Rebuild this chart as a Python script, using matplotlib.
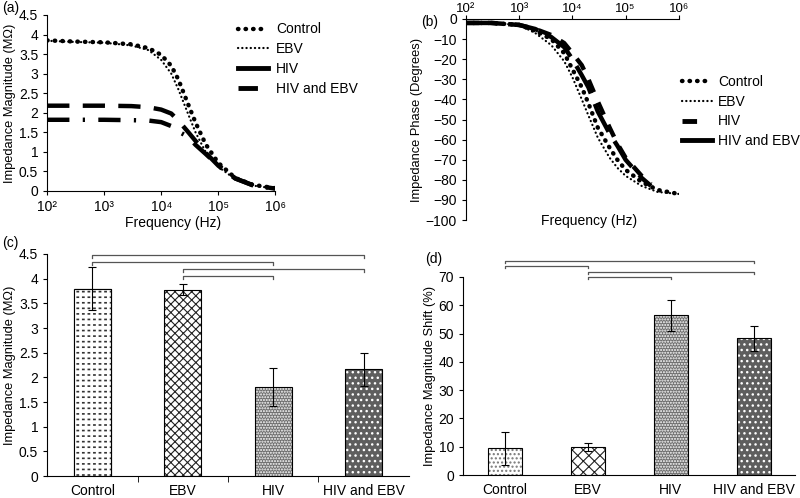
"""
Impedance magnitude / phase spectra and bar comparisons (Control, EBV, HIV, HIV and EBV)
"""

import numpy as np
import matplotlib as mpl
import matplotlib.pyplot as plt
from matplotlib.lines import Line2D

plt.rcParams['font.family'] = ['Liberation Sans', 'DejaVu Sans']
plt.rcParams['font.size'] = 10

groups = ['Control', 'EBV', 'HIV', 'HIV and EBV']

# (a) impedance magnitude spectra (MOhm)
freq_a = [1e2, 3e2, 1e3, 3e3, 6e3, 1e4, 1.5e4, 2e4, 3e4, 4e4, 6e4, 1e5, 2e5, 4e5, 1e6]
control_a = [3.85, 3.82, 3.80, 3.75, 3.65, 3.48, 3.20, 2.85, 2.20, 1.75, 1.20, 0.72, 0.33, 0.16, 0.07]
ebv_a = [3.84, 3.81, 3.79, 3.72, 3.60, 3.35, 3.00, 2.60, 1.95, 1.50, 1.00, 0.62, 0.30, 0.14, 0.06]
hiv_a = [1.82, 1.82, 1.82, 1.81, 1.80, 1.76, 1.66, 1.52, 1.38, 1.18, 0.95, 0.65, 0.32, 0.15, 0.06]
hiv_ebv_a = [2.18, 2.18, 2.18, 2.17, 2.14, 2.08, 1.98, 1.80, 1.50, 1.28, 0.98, 0.65, 0.32, 0.15, 0.06]

# (b) impedance phase spectra (degrees)
freq_b = [1e2, 3e2, 1e3, 2e3, 4e3, 7e3, 1e4, 1.5e4, 2e4, 3e4, 5e4, 7e4, 1e5, 2e5, 4e5, 1e6]
control_b = [-2, -2, -3, -6, -10, -17, -25, -34, -42, -54, -64, -70, -75, -81, -85, -87]
ebv_b = [-2, -2, -3, -7, -13, -21, -29, -40, -48, -59, -69, -74, -78, -83, -86, -87]
freq_b2 = [1e2, 3e2, 1e3, 2e3, 4e3, 7e3, 1e4, 1.5e4, 2e4, 3e4, 5e4, 7e4, 1e5, 2e5, 3e5]
hiv_b = [-2, -2, -3, -5, -8, -12, -17, -23, -30, -41, -54, -62, -69, -78, -82]
hiv_ebv_b = [-2, -2, -3, -5, -9, -14, -20, -28, -34, -46, -57, -63, -70, -79, -83]

# (c) impedance magnitude at low frequency
mag_mean = [3.80, 3.78, 1.81, 2.16]
mag_err = [0.43, 0.12, 0.39, 0.33]

# (d) impedance magnitude shift
shift_mean = [9.4, 9.8, 56.5, 48.3]
shift_err = [5.9, 1.4, 5.5, 4.3]

# significance brackets: (from, to, height)
brackets_c = [(0, 3, 4.48), (0, 2, 4.34), (1, 3, 4.20), (1, 2, 4.06)]
brackets_d = [(0, 3, 75.6), (0, 1, 73.9), (1, 3, 71.8), (1, 2, 70.0)]

log_labels = ['10²', '10³', '10⁴', '10⁵', '10⁶']

fig = plt.figure(figsize=(8, 4.98), dpi=100)

big_dot = dict(color='k', lw=3.2, linestyle=(0, (0.1, 1.6)), dash_capstyle='round')
small_dot = dict(color='k', lw=1.6, linestyle=(0, (0.1, 1.8)), dash_capstyle='round')


def style_axis(ax):
    ax.spines['top'].set_visible(False)
    ax.spines['right'].set_visible(False)
    ax.tick_params(direction='out', length=3, width=0.8, labelsize=10)


def log_ticks(ax):
    ax.set_xscale('log')
    ax.set_xlim(1e2, 1e6)
    ax.set_xticks([1e2, 1e3, 1e4, 1e5, 1e6])
    ax.set_xticklabels(log_labels)
    ax.minorticks_off()


# ---- (a) ----
ax = fig.add_axes([0.059, 0.6165, 0.285, 0.3535])
style_axis(ax)
log_ticks(ax)
ax.plot(freq_a, control_a, **big_dot)
ax.plot(freq_a, ebv_a, **small_dot)
ax.plot(freq_a, hiv_a, color='k', lw=3.2, linestyle=(0, (5, 3, 0.5, 3)))
ax.plot(freq_a, hiv_ebv_a, color='k', lw=3.2, linestyle=(0, (5, 3)))
ax.set_ylim(0, 4.5)
ax.set_yticks(np.arange(0, 4.51, 0.5))
ax.set_yticklabels(['0', '0.5', '1', '1.5', '2', '2.5', '3', '3.5', '4', '4.5'])
ax.set_ylabel('Impedance Magnitude (MΩ)', fontsize=9.3, labelpad=2)
ax.set_xlabel('Frequency (Hz)', fontsize=10, labelpad=1)
ax.xaxis.set_label_coords(0.55, -0.14)
handles_a = [
    Line2D([], [], **big_dot),
    Line2D([], [], **small_dot),
    Line2D([], [], color='k', lw=3.5),
    Line2D([], [], color='k', lw=3.5, linestyle=(0, (4, 3))),
]
fig.legend(handles_a, groups, loc='upper left', bbox_to_anchor=(0.2975, 0.955),
           frameon=False, fontsize=10, handlelength=2.16, handletextpad=0.58,
           labelspacing=0.42, borderpad=0, borderaxespad=0)
fig.text(0.003, 0.997, '(a)', fontsize=10, va='top')

# ---- (b) ----
ax = fig.add_axes([0.5825, 0.558, 0.266, 0.404])
ax.spines['bottom'].set_visible(False)
ax.spines['right'].set_visible(False)
ax.tick_params(direction='out', length=3, width=0.8, labelsize=10)
ax.tick_params(axis='x', pad=0, labelsize=9.5)
log_ticks(ax)
ax.xaxis.tick_top()
ax.plot(freq_b, control_b, **big_dot)
ax.plot(freq_b, ebv_b, **small_dot)
ax.plot(freq_b2, hiv_b, color='k', lw=3.2, linestyle=(0, (3, 2.5)))
ax.plot(freq_b2, hiv_ebv_b, color='k', lw=3.2, linestyle=(0, (7, 2.5)))
ax.set_ylim(-100, 0)
ax.set_yticks(np.arange(-100, 1, 10))
ax.set_ylabel('Impedance Phase (Degrees)', fontsize=9.3, labelpad=2)
fig.text(0.736, 0.556, 'Frequency (Hz)', fontsize=10, ha='center', va='center')
handles_b = [
    Line2D([], [], **big_dot),
    Line2D([], [], **small_dot),
    Line2D([], [], color='k', lw=3.5, linestyle=(0, (3, 4))),
    Line2D([], [], color='k', lw=3.5),
]
fig.legend(handles_b, groups, loc='upper left', bbox_to_anchor=(0.8525, 0.85),
           frameon=False, fontsize=10, handlelength=2.16, handletextpad=0.43,
           labelspacing=0.42, borderpad=0, borderaxespad=0)
fig.text(0.527, 0.97, '(b)', fontsize=10, va='top')


def hatched_bars(ax, means, errs, styles, width):
    x = np.arange(len(means))
    for i, (fc, hatch, hc, hlw) in enumerate(styles):
        # fill + hatch in its own colour, then the black outline on top
        with mpl.rc_context({'hatch.linewidth': hlw}):
            ax.bar(x[i], means[i], width, color=fc, hatch=hatch, edgecolor=hc, linewidth=0)
        ax.bar(x[i], means[i], width, fill=False, edgecolor='k', linewidth=0.8)
    ax.errorbar(x, means, yerr=errs, fmt='none', ecolor='k', elinewidth=0.8,
                capsize=3, capthick=0.8)
    ax.set_xlim(-0.5, len(means) - 0.5)
    ax.set_xticks(x)
    ax.set_xticklabels(groups, fontsize=10)


def draw_brackets(ax, brackets, tick):
    for i0, i1, h in brackets:
        ax.plot([i0, i0, i1, i1], [h - tick, h, h, h - tick], color='#555555',
                lw=0.9, clip_on=False)


# ---- (c) ----
ax = fig.add_axes([0.059, 0.044, 0.452, 0.446])
style_axis(ax)
styles_c = [('white', '---', '#333333', 1.2), ('white', 'xxxx', '#222222', 0.8),
            ('#6e6e6e', '......', 'white', 1.0), ('#5e5e5e', '...', 'white', 1.0)]
hatched_bars(ax, mag_mean, mag_err, styles_c, 0.41)
# break the horizontal lines of the Control bar into short dashes
with mpl.rc_context({'hatch.linewidth': 2.0}):
    ax.bar(0, mag_mean[0], 0.41, fill=False, hatch='|||', edgecolor='white', linewidth=0)
ax.bar(0, mag_mean[0], 0.41, fill=False, edgecolor='k', linewidth=0.8)
ax.set_ylim(0, 4.5)
ax.set_yticks(np.arange(0, 4.51, 0.5))
ax.set_yticklabels(['0', '0.5', '1', '1.5', '2', '2.5', '3', '3.5', '4', '4.5'])
ax.set_xticks([0.5, 1.5, 2.5], minor=True)
ax.tick_params(axis='x', which='major', length=0, pad=6)
ax.tick_params(axis='x', which='minor', length=4, direction='out')
ax.set_ylabel('Impedance Magnitude (MΩ)', fontsize=9.3, labelpad=2)
draw_brackets(ax, brackets_c, 0.06)
fig.text(0.003, 0.527, '(c)', fontsize=10, va='top')

# ---- (d) ----
ax = fig.add_axes([0.579, 0.046, 0.415, 0.398])
style_axis(ax)
styles_d = [('white', '....', '#777777', 1.0), ('white', 'xxx', '#222222', 0.8),
            ('#6e6e6e', '......', 'white', 1.0), ('#5e5e5e', '...', 'white', 1.0)]
hatched_bars(ax, shift_mean, shift_err, styles_d, 0.41)
ax.set_ylim(0, 70)
ax.set_yticks(np.arange(0, 71, 10))
ax.tick_params(axis='x', which='major', length=0, pad=6)
ax.set_ylabel('Impedance Magnitude Shift (%)', fontsize=9.3, labelpad=2)
draw_brackets(ax, brackets_d, 0.8)
fig.text(0.531, 0.493, '(d)', fontsize=10, va='top')

plt.savefig('out.png', dpi=100)
plt.close()
